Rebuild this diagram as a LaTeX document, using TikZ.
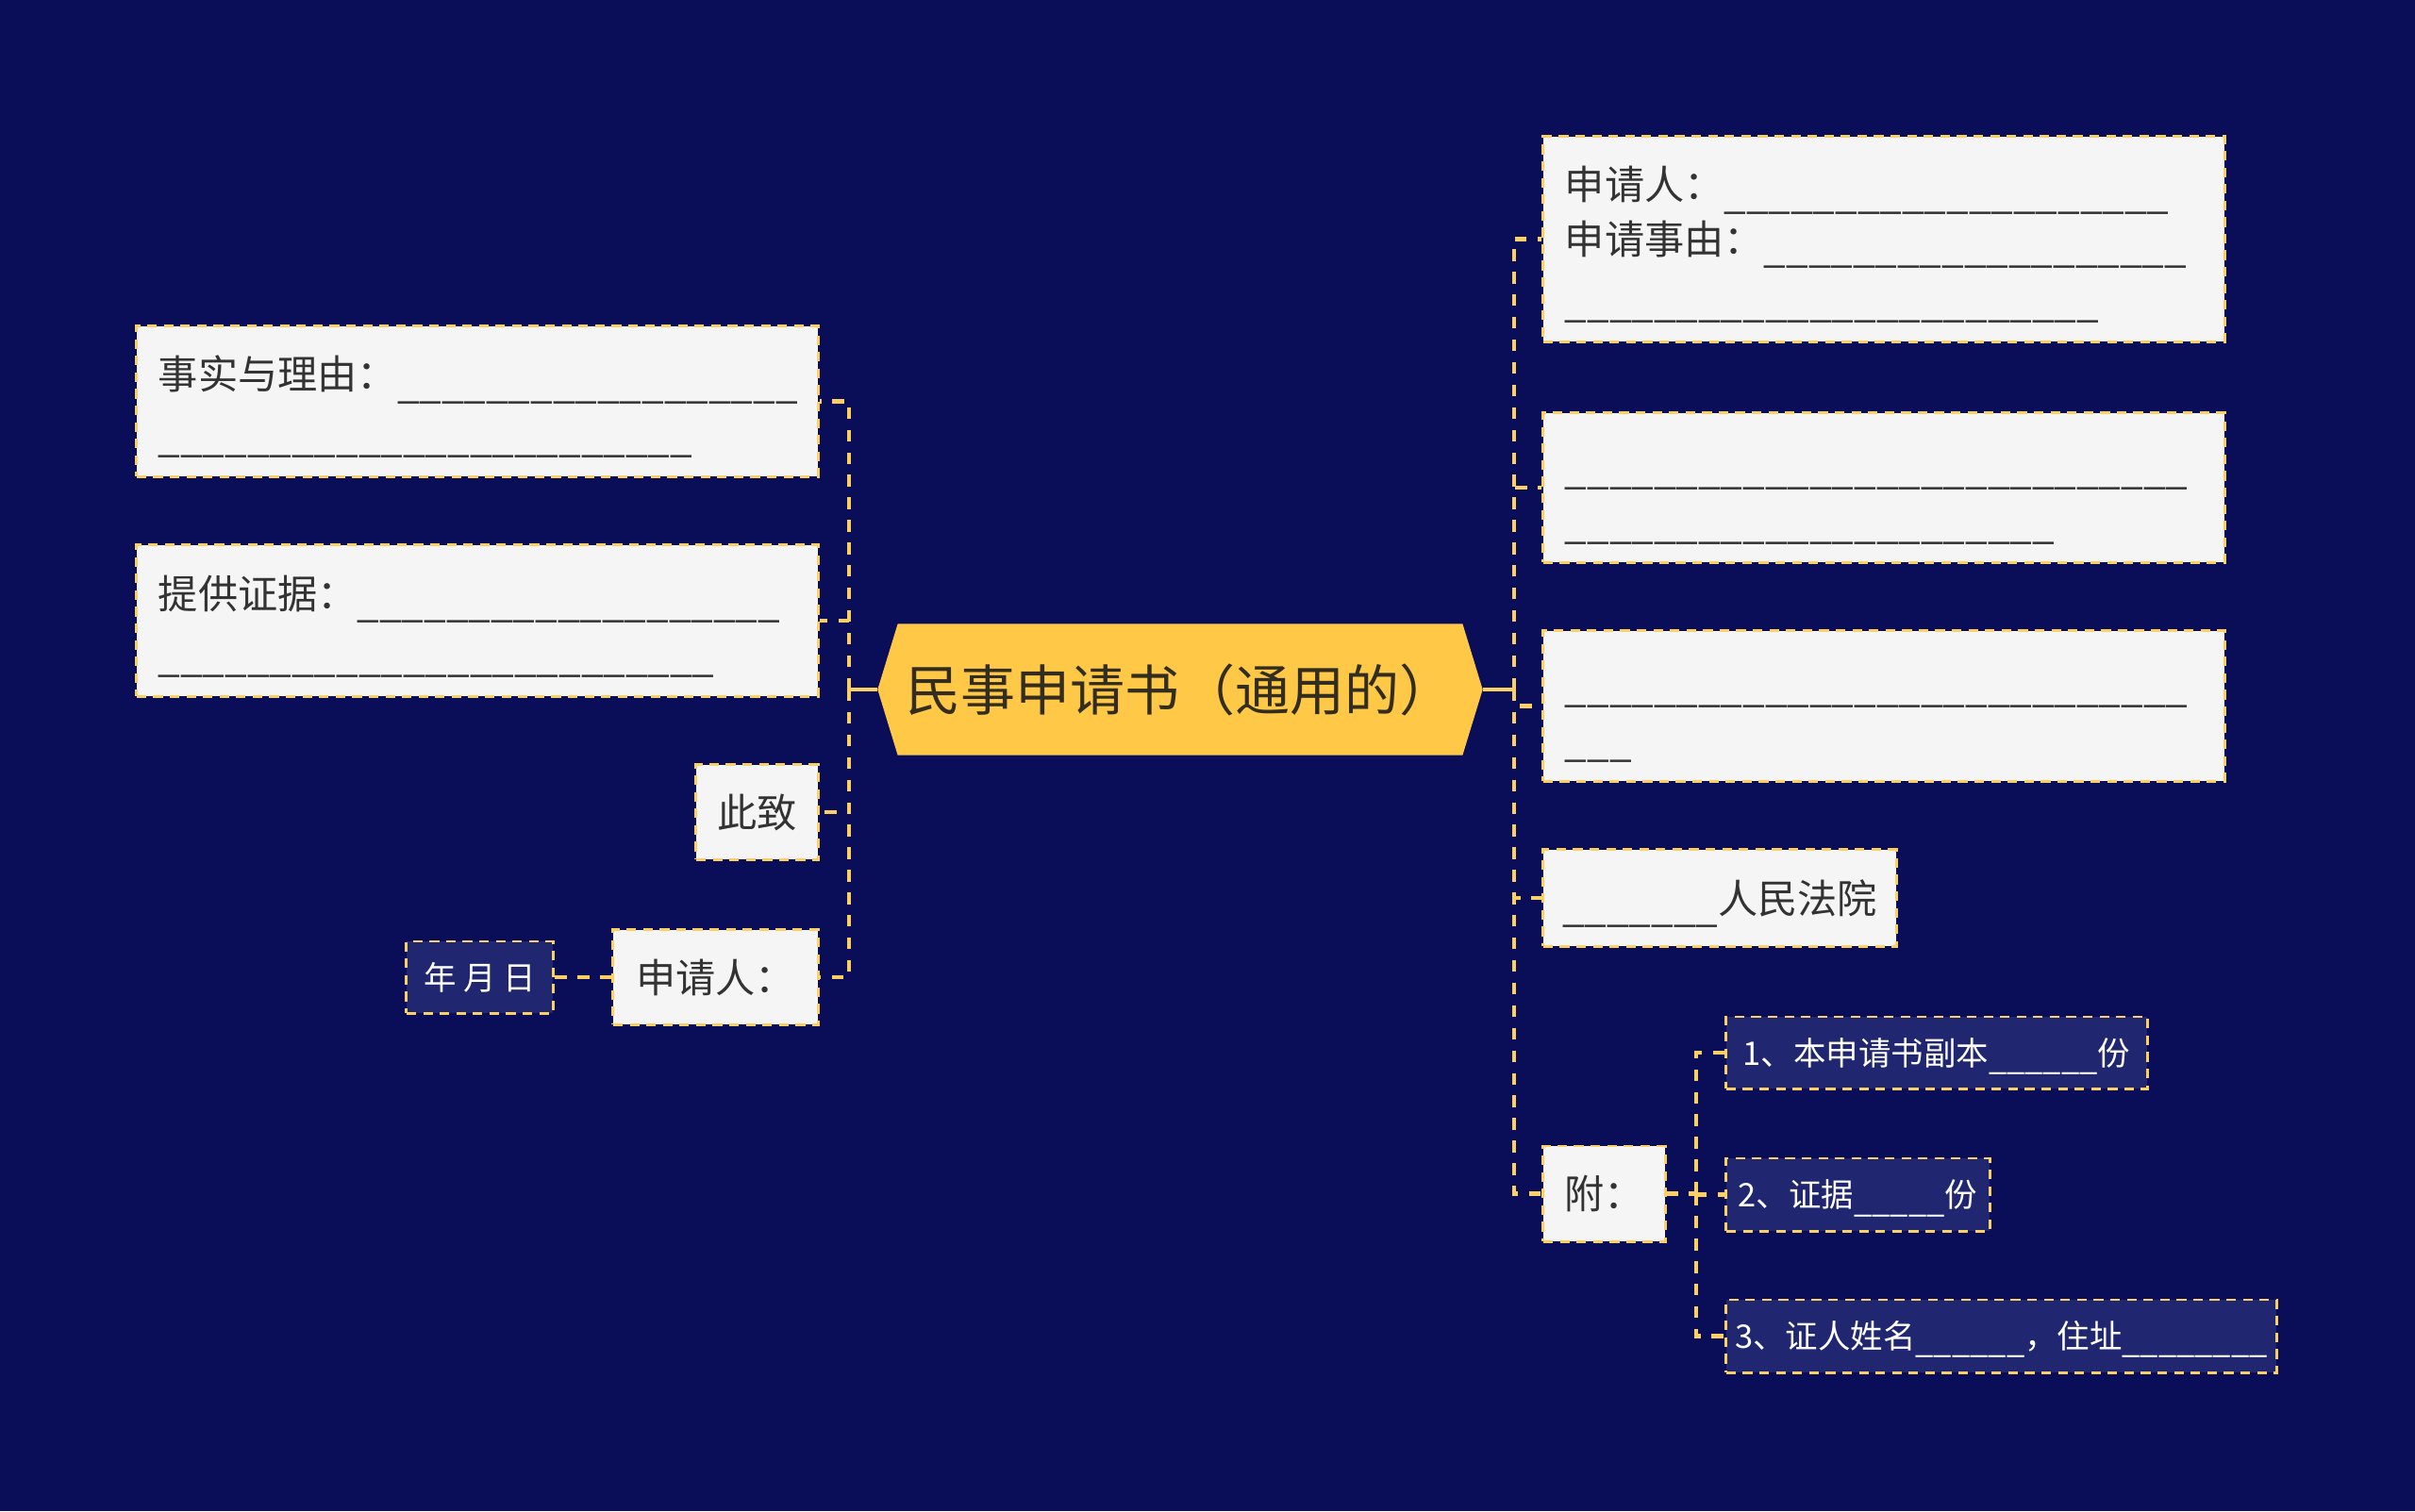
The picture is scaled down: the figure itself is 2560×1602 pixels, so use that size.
\documentclass[tikz,border=0pt]{standalone}
\usepackage{fontspec}
\newfontfamily\cjk{Noto Sans CJK SC}
\usetikzlibrary{shapes.symbols}
\definecolor{bgnavy}{RGB}{10,14,88}
\definecolor{gold}{RGB}{255,200,70}
\definecolor{dashgold}{RGB}{250,208,100}
\definecolor{paper}{RGB}{245,245,245}
\definecolor{ink}{RGB}{51,51,51}
\definecolor{subnavy}{RGB}{32,38,112}
\newcommand\blanks[2][2.6pt]{\vphantom{申}\smash{\raisebox{-#1}{\foreach\k in {1,...,#2}{\_}}}}

\begin{document}
\begin{tikzpicture}[x=0.01cm,y=-0.01cm,
  leaf/.style={draw=dashgold,fill=paper,text=ink,line width=0.85pt,dash pattern=on 2.9pt off 2.1pt,
    font=\cjk\fontsize{12}{16.4}\selectfont,inner sep=0pt},
  para/.style={leaf,align=left,inner xsep=0.23cm},
  tag/.style={leaf,fill=subnavy,text=white,font=\cjk\fontsize{9.8}{12}\selectfont},
  link/.style={dashgold,line width=1.4pt,dash pattern=on 3.5pt off 3.3pt},
  trunk/.style={dashgold,line width=1.1pt}]
\fill[bgnavy] (0,0) rectangle (2560,1602);
\useasboundingbox (0,0) rectangle (2560,1602);
\node[signal,signal to=west and east,signal pointer angle=146,fill=gold,text={rgb,255:red,50;green,45;blue,30},
  font=\cjk\fontsize{16.5}{19}\selectfont,minimum width=6.41cm,minimum height=1.39cm,inner sep=0pt] (cen) at (1251,731) {民事申请书（通用的）};
\node[para,text width=6.76cm,minimum height=1.59cm] (fact) at (506,425.5) {事实与理由：\blanks{18}\\\blanks{24}};
\node[para,text width=6.76cm,minimum height=1.60cm] (evid) at (506,658) {提供证据：\blanks{19}\\\blanks{25}};
\node[leaf,minimum width=1.29cm,minimum height=1.00cm] (salute) at (802.5,861) {此致};
\node[leaf,minimum width=2.17cm,minimum height=1.00cm] (lsign) at (758.5,1036) {申请人：};
\node[tag,minimum width=1.55cm,minimum height=0.76cm] (date) at (508.5,1036) {年 月 日};
\node[para,text width=6.76cm,minimum height=2.17cm] (appl) at (1997,253.5) {申请人：\blanks{20}\\申请事由：\blanks{19}\\\blanks{24}};
\node[para,text width=6.76cm,minimum height=1.58cm] (blankA) at (1997,517) {\blanks{28}\\\blanks{22}};
\node[para,text width=6.76cm,minimum height=1.59cm] (blankB) at (1997,748.5) {\blanks{28}\\\blanks{3}};
\node[leaf,minimum width=3.74cm,minimum height=1.02cm] (court) at (1823,952) {\blanks{7}人民法院};
\node[leaf,minimum width=1.29cm,minimum height=1.01cm] (annex) at (1700.5,1265.5) {附：};
\node[tag,minimum width=4.46cm,minimum height=0.76cm] (copies) at (2053,1116) {1、本申请书副本\blanks[1.6pt]{6}份};
\node[tag,minimum width=2.79cm,minimum height=0.77cm] (proof) at (1969.5,1266.5) {2、证据\blanks[1.6pt]{5}份};
\node[tag,minimum width=5.83cm,minimum height=0.77cm] (witness) at (2121.5,1416.5) {3、证人姓名\blanks[1.6pt]{6}，住址\blanks[1.6pt]{8}};
\coordinate (lsp) at (900,731);
\coordinate (rsp) at (1605,731);
\coordinate (ssp) at (1798,1265.5);
\draw[trunk] (cen.west) -- (lsp);
\draw[trunk] (cen.east) -- (rsp);
\foreach \n in {fact,evid,salute,lsign} \draw[link] (lsp) |- (\n.east);
\foreach \n in {appl,blankA,blankB,court,annex} \draw[link] (rsp) |- (\n.west);
\draw[link] (annex.east) -- (ssp);
\foreach \n in {copies,proof,witness} \draw[link] (ssp) |- (\n.west);
\draw[link] (lsign.west) -- (date.east);
\end{tikzpicture}
\end{document}
